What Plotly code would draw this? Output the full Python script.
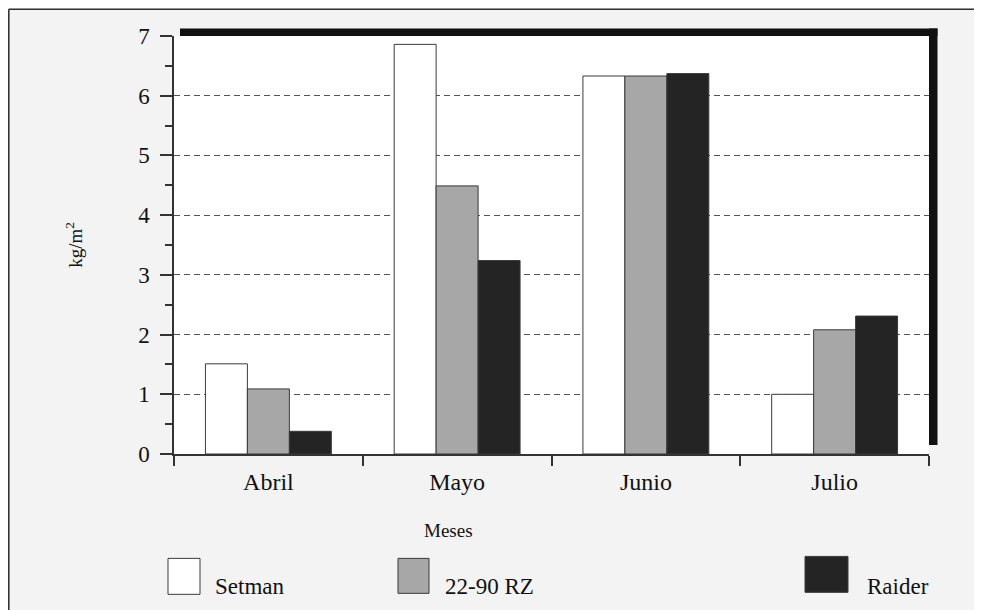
import plotly.graph_objects as go

meses = ["Abril", "Mayo", "Junio", "Julio"]
series_names = ["Setman", "22-90 RZ", "Raider"]
setman = [1.51, 6.86, 6.33, 1.0]
rz2290 = [1.09, 4.49, 6.33, 2.08]
raider = [0.38, 3.24, 6.37, 2.31]
y_ticks = [0, 1, 2, 3, 4, 5, 6, 7]

fills = ["#ffffff", "#a7a7a7", "#242424"]
values = [setman, rz2290, raider]

W, H = 982, 610
OFF = 8  # page body margin
# plot area in page pixel coordinates
L, R, T, B = 174, 929, 36, 454.5
pw, ph = R - L, B - T

def px(x):
    return (x - L) / pw

def py(y):
    return (B - y) / ph

FONT = "Liberation Serif"
TXT = "#111111"

fig = go.Figure()
for name, vals, col in zip(series_names, values, fills):
    fig.add_trace(go.Bar(
        x=meses, y=vals, name=name,
        marker=dict(color=col, line=dict(color="#3a3a3a", width=1)),
        showlegend=False,
    ))

shapes = []
# heavy shadow border (top and right)
shapes.append(dict(type="rect", xref="paper", yref="paper",
                   x0=px(180), x1=px(937.5), y0=1.0, y1=py(28.5),
                   fillcolor="#111111", line=dict(width=0), layer="above"))
shapes.append(dict(type="rect", xref="paper", yref="paper",
                   x0=1.0, x1=px(937.5), y0=py(445.5), y1=py(28.5),
                   fillcolor="#111111", line=dict(width=0), layer="above"))
# outer frame (figure edge)
shapes.append(dict(type="line", xref="paper", yref="paper",
                   x0=px(8.8), x1=px(8.8), y0=py(9.2), y1=py(640),
                   line=dict(color="#333333", width=1.6)))
shapes.append(dict(type="line", xref="paper", yref="paper",
                   x0=px(8.8), x1=px(1000), y0=py(9.2), y1=py(9.2),
                   line=dict(color="#333333", width=1.6)))

annotations = []
# legend drawn manually
leg_boxes = [(168, 200, 559, 595), (398, 429, 559, 594), (805, 848, 557, 593)]
leg_text_x = [213, 443, 865]
for name, col, (x0, x1, y0, y1), tx in zip(series_names, fills, leg_boxes, leg_text_x):
    shapes.append(dict(type="rect", xref="paper", yref="paper",
                       x0=px(x0), x1=px(x1), y0=py(y1), y1=py(y0),
                       fillcolor=col, line=dict(color="#3a3a3a", width=1)))
    annotations.append(dict(text=name, xref="paper", yref="paper",
                            x=px(tx), y=py(587), xanchor="left", yanchor="middle",
                            showarrow=False, font=dict(family=FONT, size=23, color=TXT)))

annotations.append(dict(text="Meses", xref="paper", yref="paper",
                        x=px(448), y=py(531), xanchor="center", yanchor="middle",
                        showarrow=False, font=dict(family=FONT, size=19, color=TXT)))
annotations.append(dict(text="kg/m<sup>2</sup>", xref="paper", yref="paper",
                        x=px(74), y=py(245), xanchor="center", yanchor="middle",
                        textangle=-90, showarrow=False,
                        font=dict(family=FONT, size=19, color=TXT)))

fig.update_layout(
    width=W, height=H,
    margin=dict(l=L - OFF, r=W - (R - OFF), t=T - OFF, b=H - (B - OFF), pad=0),
    paper_bgcolor="#f3f3f3", plot_bgcolor="#ffffff",
    barmode="group", bargap=0.333, bargroupgap=0,
    shapes=shapes, annotations=annotations,
    font=dict(family=FONT, color=TXT),
)
fig.update_xaxes(
    type="category", tickson="boundaries", ticks="outside", ticklen=10,
    tickwidth=1.5, tickcolor="#333333",
    showline=True, linecolor="#333333", linewidth=1.5, mirror=False,
    showgrid=False, tickfont=dict(family=FONT, size=24, color=TXT),
    ticklabelstandoff=5,
)
fig.update_yaxes(
    range=[0, 7], tickvals=y_ticks, ticks="outside", ticklen=12,
    tickwidth=1.5, tickcolor="#333333",
    minor=dict(dtick=0.5, ticks="outside", ticklen=7, tickwidth=1.5, tickcolor="#333333", showgrid=False),
    showline=True, linecolor="#333333", linewidth=1.5,
    showgrid=True, gridcolor="#555555", griddash="6px,4px", gridwidth=1,
    zeroline=False, tickfont=dict(family=FONT, size=23, color=TXT),
    ticklabelstandoff=6,
)

fig.write_html("out.html")
